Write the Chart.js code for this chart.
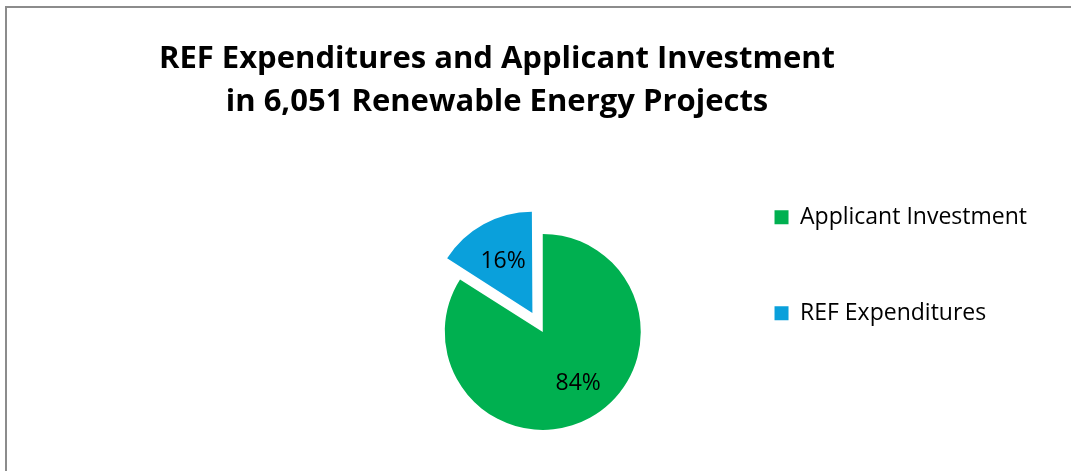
<!DOCTYPE html>
<html>
<head>
<meta charset="utf-8">
<script src="https://cdn.jsdelivr.net/npm/chart.js@4"></script>
<style>
    html, body { margin: 0; padding: 0; background: #fff; overflow: hidden; }
    .frame {
        position: absolute; left: 5px; top: 6px; width: 1200px; height: 600px;
        border-left: 2px solid #8c8c8c; border-top: 2px solid #8c8c8c;
    }
    .wrap { position: absolute; left: 0; top: 0; width: 1071px; height: 531px; }
</style>
</head>
<body>
<div class="frame"></div>
<div class="wrap"><canvas id="investment"></canvas></div>
<script>
// values (percent of total)
const categories = ['Applicant Investment', 'REF Expenditures'];
const shares = [84, 16];
const sliceColors = ['#00B050', '#0AA0DB'];
const sliceOffsets = [0, 86]; // REF slice is pulled out
const titleLines = ['REF Expenditures and Applicant Investment', 'in 6,051 Renewable Energy Projects'];

document.addEventListener('DOMContentLoaded', function() {
    const ctx = document.getElementById('investment').getContext('2d');

    Chart.defaults.font.family = '"Open Sans", sans-serif';
    Chart.defaults.color = '#000';

    // percentage labels inside each slice
    const pctLabels = {
        id: 'pctLabels',
        afterDatasetsDraw(chart) {
            const c = chart.ctx;
            const meta = chart.getDatasetMeta(0);
            const total = shares.reduce((a, b) => a + b, 0);
            c.save();
            c.font = '23px "Open Sans"';
            c.fillStyle = '#000';
            c.textAlign = 'center';
            c.textBaseline = 'middle';
            meta.data.forEach((arc, i) => {
                const p = arc.getProps(['x', 'y', 'startAngle', 'endAngle', 'outerRadius'], true);
                const mid = (p.startAngle + p.endAngle) / 2 - (i === 0 ? 0.12 : 0);
                const r = (arc.options.offset || 0) / 4 + p.outerRadius * 0.62;
                c.fillText(Math.round(shares[i] / total * 100) + '%', p.x + Math.cos(mid) * r, p.y + Math.sin(mid) * r + 2);
            });
            c.restore();
        }
    };

    // title sits left of the plot centre in the original
    const titleShift = {
        id: 'titleShift',
        afterLayout(chart) {
            chart.titleBlock.left = 0;
            chart.titleBlock.right = 994;
        }
    };

    new Chart(ctx, {
        type: 'pie',
        data: {
            labels: categories,
            datasets: [{
                data: shares,
                backgroundColor: sliceColors,
                offset: sliceOffsets,
                borderWidth: 0
            }]
        },
        options: {
            responsive: true,
            maintainAspectRatio: false,
            animation: false,
            radius: 98,
            layout: { padding: { left: 384, right: 34, top: 0, bottom: 0 } },
            plugins: {
                title: {
                    display: true,
                    text: titleLines,
                    font: { size: 31, weight: 'bold', lineHeight: 1.4 },
                    padding: { top: 37, bottom: 9 }
                },
                legend: {
                    position: 'right',
                    align: 'start',
                    fullSize: false,
                    maxWidth: 400,
                    labels: {
                        boxWidth: 14,
                        boxHeight: 14,
                        padding: 73,
                        font: { size: 23 }
                    }
                },
                tooltip: { enabled: false }
            }
        },
        plugins: [pctLabels, titleShift]
    });
});
</script>
</body>
</html>
